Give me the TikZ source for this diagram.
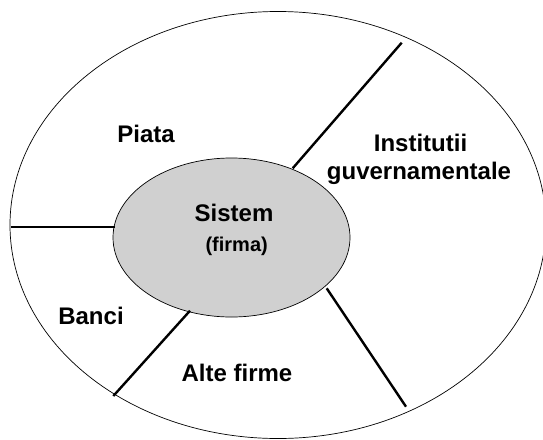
\documentclass[tikz,border=0pt]{standalone}
\usepackage{fontspec}
\setmainfont{Liberation Sans}
\usetikzlibrary{shapes.geometric}
\definecolor{sysgray}{RGB}{208,208,208}
\begin{document}
\begin{tikzpicture}[x=1pt,y=-1pt,
  region/.style={draw=black,line width=0.7pt,ellipse,inner sep=0pt},
  divider/.style={draw=black,line width=2.4pt},
  label/.style={anchor=base,inner sep=0pt,font=\bfseries\fontsize{24}{28}\selectfont},
  sublabel/.style={anchor=base,inner sep=0pt,font=\bfseries\fontsize{20}{24}\selectfont}]
  \useasboundingbox (0,0) rectangle (543,439);

  % environment and the system inside it
  \node[region,minimum width=536pt,minimum height=427pt] (env) at (278,225) {};
  \node[region,fill=sysgray,minimum width=237pt,minimum height=159pt] (sys) at (231.5,237.5) {};

  % end points of the dividing lines
  \coordinate (dL1) at (115,227);     \coordinate (dL2) at (10.7,227);
  \coordinate (dT1) at (292.7,168.3); \coordinate (dT2) at (401.7,42.7);
  \coordinate (dR1) at (326.7,288.3); \coordinate (dR2) at (406,406.7);
  \coordinate (dB1) at (190,310.7);   \coordinate (dB2) at (113.3,396);

  \draw[divider] (dL1) -- (dL2);
  \draw[divider] (dT1) -- (dT2);
  \draw[divider] (dR1) -- (dR2);
  \draw[divider] (dB1) -- (dB2);

  % labels
  \node[label] (sistem) at (234,221) {Sistem};
  \node[sublabel] (firma) at (236.7,251.5) {(firma)};
  \node[label] (piata) at (146,142.3) {Piata};
  \node[label] (inst1) at (420.5,151.7) {Institutii};
  \node[label] (inst2) at (419,179.3) {guvernamentale};
  \node[label] (banci) at (91,324) {Banci};
  \node[label] (alte) at (237,381.7) {Alte firme};
\end{tikzpicture}
\end{document}
